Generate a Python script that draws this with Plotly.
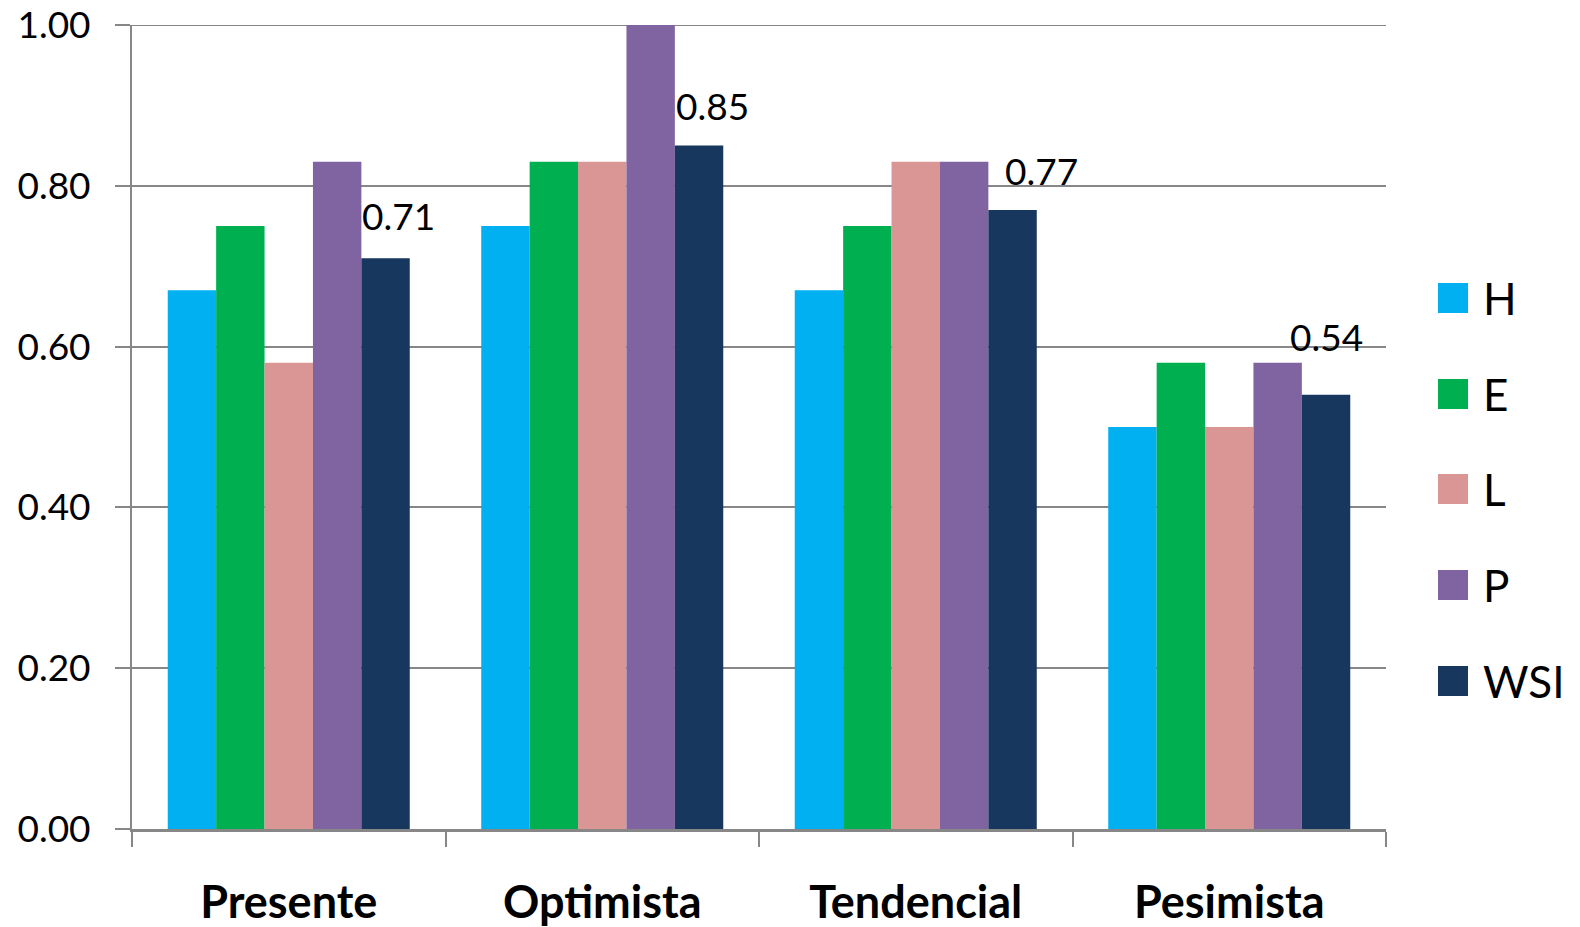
import plotly.graph_objects as go

categories = ["Presente", "Optimista", "Tendencial", "Pesimista"]
series_names = ["H", "E", "L", "P", "WSI"]
H = [0.67, 0.75, 0.67, 0.50]
E = [0.75, 0.83, 0.75, 0.58]
L = [0.58, 0.83, 0.83, 0.50]
P = [0.83, 1.00, 0.83, 0.58]
WSI = [0.71, 0.85, 0.77, 0.54]
y_ticks = [0.0, 0.2, 0.4, 0.6, 0.8, 1.0]
y_tick_labels = ["0.00", "0.20", "0.40", "0.60", "0.80", "1.00"]

series_values = [H, E, L, P, WSI]
colors = ["#00B0F0", "#00B050", "#D99694", "#8064A2", "#17375E"]
GRID = "#878787"

# label offsets in pixels (x from category centre, y above bar top)
label_xshift = [110, 110, 126, 97]
label_yshift = [43, 40, 39, 58]

FONT = "Lato"

fig = go.Figure()
for name, vals, col in zip(series_names, series_values, colors):
    fig.add_trace(go.Bar(x=categories, y=vals, name=name, marker_color=col,
                         marker_line_width=0, showlegend=False))

annotations = []
for i, (cat, v) in enumerate(zip(categories, WSI)):
    annotations.append(dict(x=i, y=v, xref="x", yref="y", text=f"{v:.2f}",
                            showarrow=False, xanchor="center", yanchor="middle",
                            xshift=label_xshift[i], yshift=label_yshift[i],
                            font=dict(family=FONT, size=37, color="#000000")))

W, Hgt = 1580, 927
plot_left, plot_right, plot_top, plot_bottom = 132, 1386, 25, 829
pw = plot_right - plot_left
ph = plot_bottom - plot_top
sw_x0, sw_x1, txt_x = 1438, 1468, 1481
centers = [298, 394, 489, 585, 681]
shapes = [
    # top gridline (plotly drops gridlines lying on the plot edge)
    dict(type="line", xref="paper", yref="y", x0=0, x1=1,
         y0=y_ticks[-1], y1=y_ticks[-1], line=dict(color=GRID, width=2), layer="below"),
]
for name, col, yc in zip(series_names, colors, centers):
    shapes.append(dict(type="rect", xref="paper", yref="paper",
                       x0=(sw_x0 - plot_left) / pw, x1=(sw_x1 - plot_left) / pw,
                       y0=(plot_bottom - yc - 15) / ph, y1=(plot_bottom - yc + 15) / ph,
                       fillcolor=col, line_width=0))
    annotations.append(dict(x=(txt_x - plot_left) / pw, y=(plot_bottom - yc) / ph,
                            xref="paper", yref="paper", text=name, showarrow=False,
                            xanchor="left", yanchor="middle",
                            font=dict(family=FONT, size=44, color="#000000")))

fig.update_layout(
    width=W, height=Hgt,
    margin=dict(l=plot_left, r=W - plot_right, t=plot_top, b=Hgt - plot_bottom, pad=0),
    paper_bgcolor="white", plot_bgcolor="white",
    barmode="group", bargap=0.228, bargroupgap=0,
    annotations=annotations, shapes=shapes,
    font=dict(family=FONT, color="#000000"),
)
fig.update_yaxes(range=[0, 1], tickvals=y_ticks, ticktext=y_tick_labels,
                 automargin=False,
                 showgrid=True, gridcolor=GRID, gridwidth=2,
                 showline=True, linecolor=GRID, linewidth=2,
                 ticks="outside", ticklen=15, tickcolor=GRID, tickwidth=2,
                 ticklabelstandoff=17, zeroline=False,
                 tickfont=dict(family=FONT, size=37, color="#000000"))
fig.update_xaxes(automargin=False,
                 showline=True, linecolor=GRID, linewidth=3,
                 ticks="outside", ticklen=15, tickcolor=GRID, tickwidth=2,
                 tickson="boundaries", ticklabelstandoff=32,
                 tickfont=dict(family=FONT, size=45, color="#000000", weight="bold"))

fig.write_html("out.html", config={"displayModeBar": False},
               post_script="document.body.style.margin='0px';document.body.style.overflow='hidden';")
